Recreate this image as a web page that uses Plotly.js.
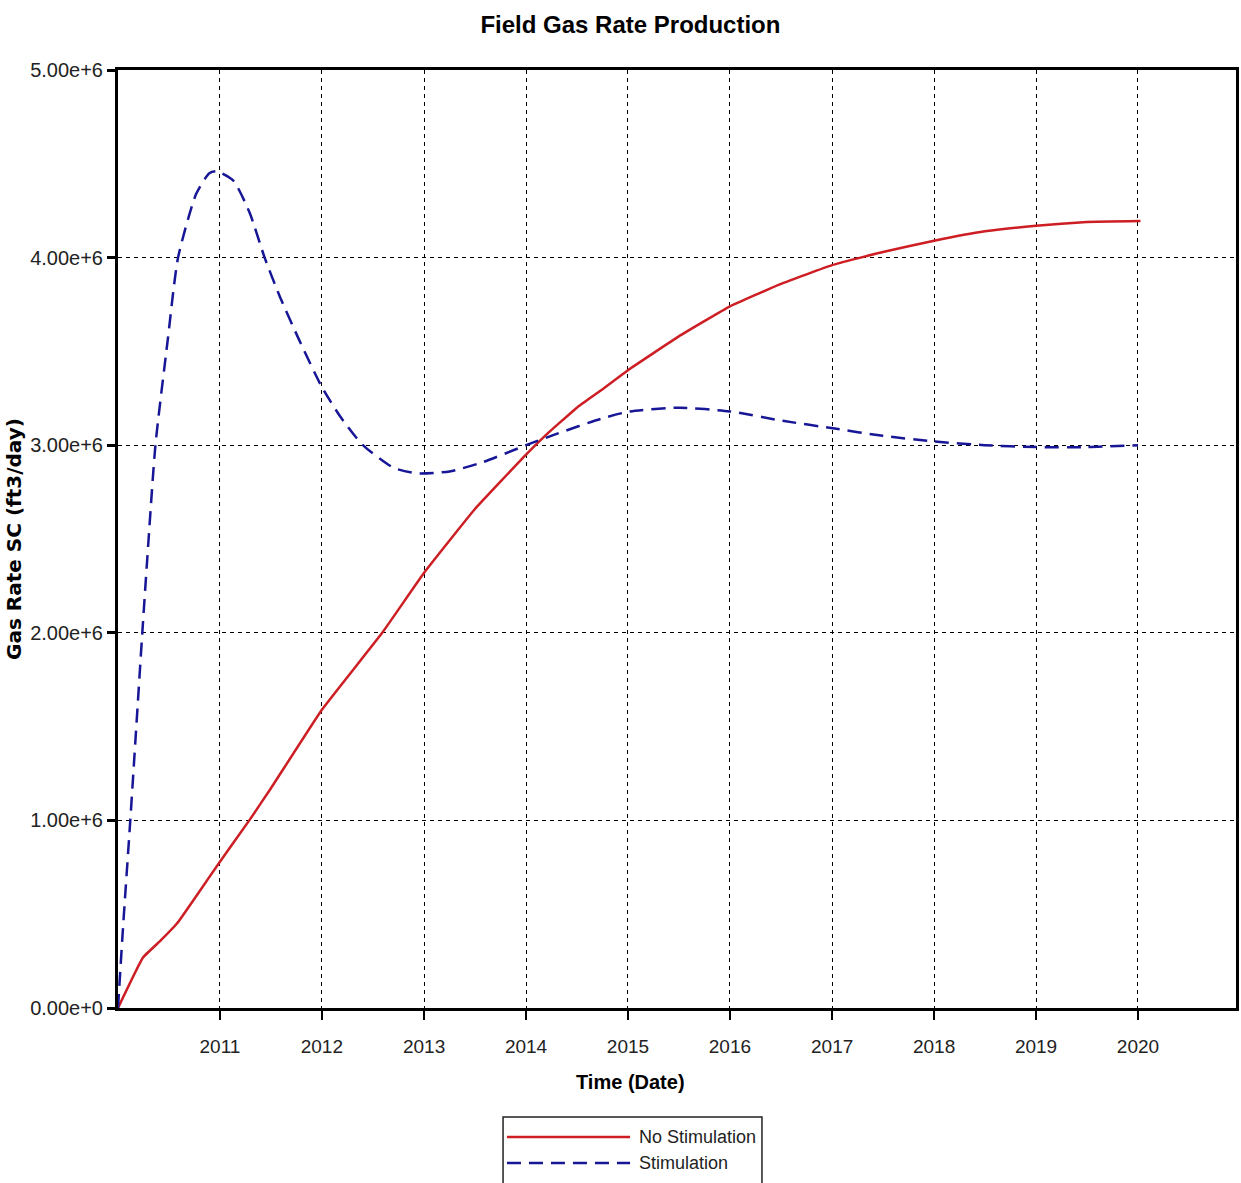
<!DOCTYPE html>
<html>
<head>
<meta charset="utf-8">
<script src="https://cdn.plot.ly/plotly-3.0.1.min.js"></script>
<style>html,body{margin:0;padding:0;background:#fff;}#chart{width:1241px;height:1183px;}</style>
</head>
<body>
<div id="chart"></div>
<script>
// ---- data ----
const noStimDates = ['2010-01-01','2010-04-01','2010-06-03','2010-07-31','2010-10-19','2011-01-01','2011-04-16','2011-07-02','2012-01-01','2012-08-04','2013-01-01','2013-07-02','2014-01-01','2014-03-10','2014-07-02','2014-09-24','2015-01-01','2015-07-02','2016-01-01','2016-07-02','2017-01-01','2017-07-02','2018-01-01','2018-07-02','2019-01-01','2019-07-02','2020-01-10'];
const noStimValues = [0,270000,360000,450000,620000,780000,1000000,1170000,1590000,2000000,2320000,2660000,2950000,3050000,3200000,3290000,3400000,3580000,3740000,3860000,3960000,4030000,4090000,4140000,4170000,4190000,4195000];

const stimDates = ['2010-01-01','2010-01-19','2010-02-14','2010-03-29','2010-04-16','2010-05-15','2010-06-28','2010-08-04','2010-10-08','2010-11-24','2010-12-20','2011-02-18','2011-04-17','2011-06-10','2011-08-04','2011-10-12','2012-01-01','2012-03-08','2012-05-27','2012-09-13','2012-12-06','2013-04-02','2013-07-31','2014-01-01','2014-04-20','2014-09-24','2015-01-08','2015-07-05','2016-01-01','2016-07-08','2017-01-04','2017-07-01','2018-01-01','2018-07-01','2019-01-01','2019-07-01','2020-01-01'];
const stimValues = [0,430000,1000000,2000000,2400000,3000000,3560000,4000000,4340000,4450000,4460000,4410000,4240000,4000000,3790000,3560000,3310000,3150000,3000000,2880000,2850000,2860000,2910000,3000000,3060000,3140000,3180000,3200000,3180000,3130000,3090000,3050000,3020000,3000000,2990000,2990000,3000000];

const yTickVals = [0,1000000,2000000,3000000,4000000,5000000];
const yTickText = ['0.00e+0','1.00e+6','2.00e+6','3.00e+6','4.00e+6','5.00e+6'];
const xTickVals = ['2011-01-01','2012-01-01','2013-01-01','2014-01-01','2015-01-01','2016-01-01','2017-01-01','2018-01-01','2019-01-01','2020-01-01'];
const xTickText = ['2011','2012','2013','2014','2015','2016','2017','2018','2019','2020'];
const seriesNames = ['No Stimulation','Stimulation'];

// ---- styles ----
const sans = 'Liberation Sans, Arial, sans-serif';
const redCol = 'rgb(205,30,36)';
const blueCol = 'rgb(22,22,150)';

const traces = [
  {x: noStimDates, y: noStimValues, type: 'scatter', mode: 'lines', name: seriesNames[0],
   line: {color: redCol, width: 2.5, shape: 'spline', smoothing: 0.3}},
  {x: stimDates, y: stimValues, type: 'scatter', mode: 'lines', name: seriesNames[1],
   line: {color: blueCol, width: 2.5, dash: '14px,8px', shape: 'spline', smoothing: 0.6}}
];

// manual legend (paper coords)
const L = {x0: 0.3444, x1: 0.576, y0: -0.1162, y1: -0.21, lx0: 0.3479, lx1: 0.458, tx: 0.4642, ys: [-0.1375, -0.1652]};

const layout = {
  width: 1241, height: 1183,
  margin: {l: 118, r: 5, t: 70, b: 175},
  paper_bgcolor: '#fff', plot_bgcolor: '#fff',
  showlegend: false,
  title: {text: '<b>Field Gas Rate Production</b>', font: {family: sans, size: 24, color: '#000'},
          x: 0.508, xref: 'container', xanchor: 'center', y: 0.979, yref: 'container', yanchor: 'middle'},
  xaxis: {
    type: 'date', range: ['2010-01-01', '2020-12-17'],
    tickmode: 'array', tickvals: xTickVals, ticktext: xTickText,
    ticks: 'outside', ticklen: 9, tickwidth: 2.5, tickcolor: '#000',
    ticklabelstandoff: 10,
    tickfont: {family: sans, size: 19, color: '#222'},
    showline: true, linecolor: '#000', linewidth: 3, mirror: true,
    showgrid: true, gridcolor: '#000', gridwidth: 1, griddash: '4px,4px',
    zeroline: false, fixedrange: true
  },
  yaxis: {
    range: [0, 5000000],
    tickmode: 'array', tickvals: yTickVals, ticktext: yTickText,
    ticks: 'outside', ticklen: 8, tickwidth: 3, tickcolor: '#000',
    tickfont: {family: sans, size: 20, color: '#222'},
    showline: true, linecolor: '#000', linewidth: 3, mirror: true,
    showgrid: true, gridcolor: '#000', gridwidth: 1, griddash: '4px,4px',
    zeroline: false, fixedrange: true,
    title: {text: '<b>Gas Rate SC (ft3/day)</b>', font: {family: 'DejaVu Sans, Verdana, sans-serif', size: 20, color: '#000'}, standoff: 4}
  },
  annotations: [
    {text: '<b>Time (Date)</b>', xref: 'paper', yref: 'paper', x: (630 - 118) / 1118, y: (1008 - 1082) / 938,
     xanchor: 'center', yanchor: 'middle', showarrow: false, font: {family: sans, size: 20, color: '#000'}},
    {text: seriesNames[0], xref: 'paper', yref: 'paper', x: L.tx, y: L.ys[0], xanchor: 'left', yanchor: 'middle',
     showarrow: false, font: {family: sans, size: 18, color: '#222'}},
    {text: seriesNames[1], xref: 'paper', yref: 'paper', x: L.tx, y: L.ys[1], xanchor: 'left', yanchor: 'middle',
     showarrow: false, font: {family: sans, size: 18, color: '#222'}}
  ],
  shapes: [
    {type: 'rect', xref: 'paper', yref: 'paper', x0: L.x0, x1: L.x1, y0: L.y0, y1: L.y1, line: {color: '#222', width: 1.5}, fillcolor: 'rgba(0,0,0,0)'},
    {type: 'line', xref: 'paper', yref: 'paper', x0: L.lx0, x1: L.lx1, y0: L.ys[0], y1: L.ys[0], line: {color: redCol, width: 2.5}},
    {type: 'line', xref: 'paper', yref: 'paper', x0: L.lx0, x1: L.lx1, y0: L.ys[1], y1: L.ys[1], line: {color: blueCol, width: 2.5, dash: '14px,8px'}}
  ]
};

Plotly.newPlot('chart', traces, layout, {displayModeBar: false, staticPlot: true});
</script>
</body>
</html>
